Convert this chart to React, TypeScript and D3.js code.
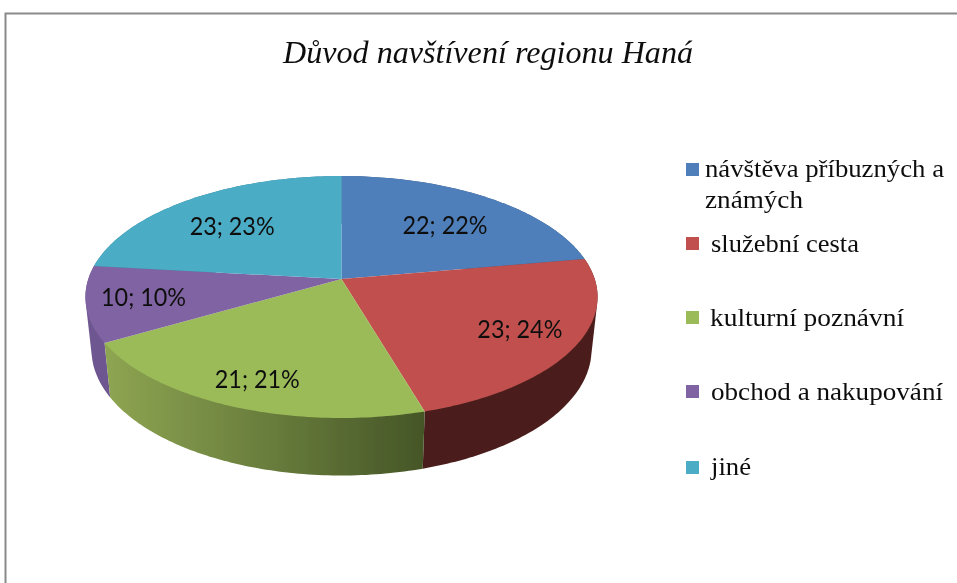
import React from "react";
import * as d3 from "d3";

const title = "Důvod navštívení regionu Haná";
const categories = ["návštěva příbuzných a známých", "služební cesta", "kulturní poznávní", "obchod a nakupování", "jiné"];
const values = [22, 23, 21, 10, 23];
const percentLabels = ["22%", "24%", "21%", "10%", "23%"];
const topColors = ["#4f7fba", "#c0504d", "#9bbb59", "#8064a2", "#4bacc6"];

const W = 957, H = 583;
const CX = 341.5;
const K = 0.1488;
const TOP = { y0: 279, A: 253.2, B: 118.3 };
const BOTTOM = { y0: 331, A: 247.2, B: 123 };

type Plane = { y0: number; A: number; B: number };
const project = (angle: number, r: number, p: Plane): [number, number] => {
  const u = Math.sin(angle) * r, v = -Math.cos(angle) * r;
  const w = 1 - K * v;
  return [CX + (p.A * u) / w, p.y0 + (p.B * v) / w];
};

const pie = d3.pie<number>().sort(null).startAngle(0).endAngle(2 * Math.PI);
const arcs = pie(values);
const line = d3.line();
const samples = (a: number, b: number) => d3.range(0, 81).map((i) => a + ((b - a) * i) / 80);

const topPath = (a: number, b: number) =>
  line([[CX, TOP.y0], ...samples(a, b).map((t) => project(t, 1, TOP))])! + "Z";
const sidePath = (a: number, b: number) => {
  const s = samples(a, b);
  const hull = d3.polygonHull([...s.map((t) => project(t, 1, TOP)), ...s.map((t) => project(t, 1, BOTTOM))]);
  return line(hull as [number, number][])! + "Z";
};

const sideGradients = [
  { id: "s0", stops: ["#3a5a80", "#3a5a80"] },
  { id: "s1", stops: ["#4f201e", "#4c1f1d"] },
  { id: "s2", stops: ["#8ea552", "#455627"] },
  { id: "s3", stops: ["#6e5790", "#6e5790"] },
  { id: "s4", stops: ["#3a8296", "#3a8296"] },
];

// Label placement relative to each slice's centroid at radius 0.65
const labelOffsets: [number, number][] = [[5, 10], [31, 16], [-17, 31], [-33.6, 11], [-7, 9.5]];

const legendRows = [
  { sq: 163, x: 705, lines: [{ t: "návštěva příbuzných a", y: 177, w: 239 }, { t: "známých", y: 208, w: 98 }] },
  { sq: 237, x: 711, lines: [{ t: categories[1], y: 252, w: 148 }] },
  { sq: 311, x: 710, lines: [{ t: categories[2], y: 326, w: 194 }] },
  { sq: 385, x: 711, lines: [{ t: categories[3], y: 400, w: 232 }] },
  { sq: 461, x: 711, lines: [{ t: categories[4], y: 475, w: 40 }] },
];

export default function App() {
  const order = [4, 0, 3, 1, 2];
  return (
    <svg width={W} height={H} viewBox={`0 0 ${W} ${H}`} style={{ position: "absolute", left: 0, top: 0, background: "#fff" }}>
      <defs>
        <filter id="soft" x="-5%" y="-5%" width="110%" height="110%">
          <feGaussianBlur stdDeviation="0.45" />
        </filter>
        {sideGradients.map((g) => (
          <linearGradient key={g.id} id={g.id} gradientUnits="userSpaceOnUse" x1={105} x2={425} y1={0} y2={0}>
            <stop offset="0" stopColor={g.stops[0]} />
            <stop offset="1" stopColor={g.stops[1]} />
          </linearGradient>
        ))}
      </defs>
      <g filter="url(#soft)">
        <path d={`M5.5 ${H}V13.5H${W}`} fill="none" stroke="#8a8a8a" strokeWidth={2} />
        <text x={488} y={63} textAnchor="middle" fontFamily="'Liberation Serif', serif" fontStyle="italic" fontSize={32} fill="#111" textLength={410} lengthAdjust="spacingAndGlyphs">
          {title}
        </text>
        {order.map((i) => (
          <path key={`side${i}`} d={sidePath(arcs[i].startAngle, arcs[i].endAngle)} fill={`url(#s${i})`} />
        ))}
        {arcs.map((a, i) => (
          <path key={`top${i}`} d={topPath(a.startAngle, a.endAngle)} fill={topColors[i]} />
        ))}
        {arcs.map((a, i) => {
          const [x, y] = project((a.startAngle + a.endAngle) / 2, 0.65, TOP);
          return (
            <text key={`lab${i}`} x={x + labelOffsets[i][0]} y={y + labelOffsets[i][1]} textAnchor="middle" fontFamily="Lato, sans-serif" fontSize={25} fill="#111" textLength={85} lengthAdjust="spacingAndGlyphs">
              {`${values[i]}; ${percentLabels[i]}`}
            </text>
          );
        })}
        {legendRows.map((row, i) => (
          <g key={i}>
            <rect x={686} y={row.sq} width={13} height={13} fill={topColors[i]} />
            {row.lines.map((l) => (
              <text key={l.t} x={row.x} y={l.y} fontFamily="'Liberation Serif', serif" fontSize={26} fill="#111" textLength={l.w} lengthAdjust="spacingAndGlyphs">
                {l.t}
              </text>
            ))}
          </g>
        ))}
      </g>
    </svg>
  );
}
